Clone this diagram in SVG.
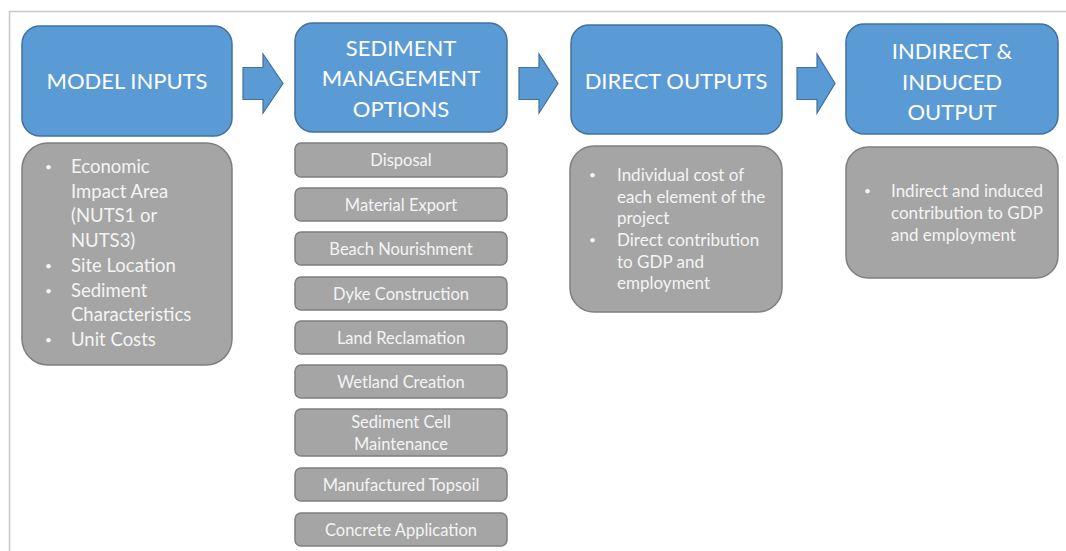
<svg xmlns="http://www.w3.org/2000/svg" width="1066" height="551" viewBox="0 0 1066 551">
<style>
.hdr{fill:#5B9BD5;stroke:#41719C;stroke-width:1.5}
.box{fill:#A5A5A5;stroke:#7F7F7F;stroke-width:1.5}
.arr{fill:#5B9BD5;stroke:#41719C;stroke-width:1.2}
.ht{font-family:Lato,"Liberation Sans",sans-serif;font-size:22px;fill:#FFFFFF;text-anchor:middle}
.bt{font-family:Lato,"Liberation Sans",sans-serif;font-size:18.5px;fill:#F4F4F4}
.mt{font-family:Lato,"Liberation Sans",sans-serif;font-size:17px;fill:#F4F4F4}
.st{font-family:Lato,"Liberation Sans",sans-serif;font-size:16.5px;fill:#F4F4F4;text-anchor:middle}
.bl{font-size:12px}
</style>
<rect width="1066" height="551" fill="#FFFFFF"/>
<path d="M9.5,551 V11.5 H1066" fill="none" stroke="#C8C8C8" stroke-width="1.5"/>

<g id="model-inputs">
<rect class="hdr" x="22" y="26" width="210" height="110" rx="18"/>
<text class="ht" x="127" y="89">MODEL INPUTS</text>
</g>
<g id="model-inputs-list">
<rect class="box" x="22" y="143" width="210" height="222" rx="26"/>
<text class="bt"><tspan class="bl" x="45" y="171">•</tspan><tspan x="71" y="173">Economic</tspan><tspan x="71" y="198">Impact Area</tspan><tspan x="71" y="222">(NUTS1 or</tspan><tspan x="71" y="247">NUTS3)</tspan><tspan class="bl" x="45" y="270">•</tspan><tspan x="71" y="272">Site Location</tspan><tspan class="bl" x="45" y="295">•</tspan><tspan x="71" y="297">Sediment</tspan><tspan x="71" y="321">Characteristics</tspan><tspan class="bl" x="45" y="344">•</tspan><tspan x="71" y="346">Unit Costs</tspan></text>
</g>

<g id="sediment-options">
<rect class="hdr" x="295" y="23" width="212" height="109" rx="18"/>
<text class="ht"><tspan x="401" y="56">SEDIMENT</tspan><tspan x="401" y="86">MANAGEMENT</tspan><tspan x="401" y="117">OPTIONS</tspan></text>
</g>
<g id="opt-disposal"><rect class="box" x="295" y="143" width="212" height="34" rx="6"/><text class="st" x="401" y="166">Disposal</text></g>
<g id="opt-material-export"><rect class="box" x="295" y="188" width="212" height="33" rx="6"/><text class="st" x="401" y="211">Material Export</text></g>
<g id="opt-beach"><rect class="box" x="295" y="232" width="212" height="33" rx="6"/><text class="st" x="401" y="255">Beach Nourishment</text></g>
<g id="opt-dyke"><rect class="box" x="295" y="277" width="212" height="33" rx="6"/><text class="st" x="401" y="300">Dyke Construction</text></g>
<g id="opt-land"><rect class="box" x="295" y="321" width="212" height="33" rx="6"/><text class="st" x="401" y="344">Land Reclamation</text></g>
<g id="opt-wetland"><rect class="box" x="295" y="365" width="212" height="33" rx="6"/><text class="st" x="401" y="388">Wetland Creation</text></g>
<g id="opt-sediment-cell"><rect class="box" x="295" y="409" width="212" height="47" rx="6"/><text class="st"><tspan x="401" y="428">Sediment Cell</tspan><tspan x="401" y="450">Maintenance</tspan></text></g>
<g id="opt-topsoil"><rect class="box" x="295" y="468" width="212" height="33" rx="6"/><text class="st" x="401" y="491">Manufactured Topsoil</text></g>
<g id="opt-concrete"><rect class="box" x="295" y="513" width="212" height="33" rx="6"/><text class="st" x="401" y="536">Concrete Application</text></g>

<g id="direct-outputs">
<rect class="hdr" x="571" y="25" width="211" height="109" rx="18"/>
<text class="ht" x="676" y="89">DIRECT OUTPUTS</text>
</g>
<g id="direct-outputs-list">
<rect class="box" x="570" y="146" width="212" height="166" rx="24"/>
<text class="mt"><tspan class="bl" x="589" y="179">•</tspan><tspan x="617" y="181">Individual cost of</tspan><tspan x="617" y="203">each element of the</tspan><tspan x="617" y="224">project</tspan><tspan class="bl" x="589" y="244">•</tspan><tspan x="617" y="246">Direct contribution</tspan><tspan x="617" y="268">to GDP and</tspan><tspan x="617" y="289">employment</tspan></text>
</g>

<g id="indirect-output">
<rect class="hdr" x="846" y="24" width="212" height="110" rx="18"/>
<text class="ht"><tspan x="952" y="59">INDIRECT &amp;</tspan><tspan x="952" y="90">INDUCED</tspan><tspan x="952" y="120">OUTPUT</tspan></text>
</g>
<g id="indirect-output-list">
<rect class="box" x="846" y="147" width="212" height="131" rx="22"/>
<text class="mt"><tspan class="bl" x="864" y="195">•</tspan><tspan x="891" y="197">Indirect and induced</tspan><tspan x="891" y="219">contribution to GDP</tspan><tspan x="891" y="241">and employment</tspan></text>
</g>

<g id="connectors">
<path class="arr" d="M243,67.5 H263 V54 L283,83.5 L263,113 V99.5 H243 Z"/>
<path class="arr" d="M519,67.5 H539 V54 L558,83.5 L539,113 V99.5 H519 Z"/>
<path class="arr" d="M797,67.5 H817 V54 L835,83.5 L817,113 V99.5 H797 Z"/>
</g>
</svg>
